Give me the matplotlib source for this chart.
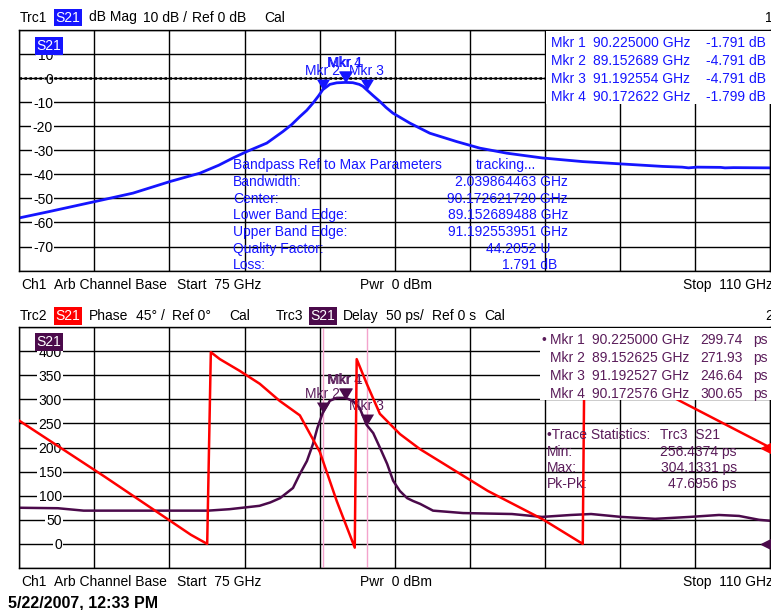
import numpy as np
import matplotlib.pyplot as plt
from matplotlib.patches import Rectangle

plt.rcParams['font.family'] = ['Liberation Sans', 'DejaVu Sans']
plt.rcParams['font.size'] = 10

BLUE = '#1515ff'
RED = '#ff0000'
PURPLE = '#4b0a4b'
PURPLE_TXT = '#5a1c5a'
PINK = '#f4a3cc'

### data
# Trc1: S21 magnitude (dB)
mag_freq = [75.0, 76.43, 78.53, 80.30, 82.02, 83.42, 84.3, 84.96, 85.61, 86.54,
            87.29, 87.7, 88.08, 88.4, 88.69, 88.95, 89.15, 89.48, 89.8, 90.2,
            90.55, 90.85, 91.02, 91.19, 91.5, 91.81, 92.1, 92.41, 93.21, 94.14,
            95.40, 96.47, 97.73, 99.40, 101.27, 103.13, 105.0, 105.9, 106.2, 106.6,
            107.7, 107.9, 108.3, 110.0]
mag_db = [-58.1, -55.4, -51.3, -47.8, -43.0, -39.5, -36.2, -33.2, -30.5, -27.0,
          -22.2, -19.3, -16.0, -13.4, -10.4, -7.4, -4.8, -2.6, -1.95, -1.79,
          -1.9, -2.6, -3.4, -4.8, -7.3, -9.7, -12.2, -14.5, -18.7, -22.9,
          -26.4, -29.1, -31.2, -33.2, -34.7, -35.7, -36.7, -37.0, -37.3, -37.0,
          -37.1, -37.3, -37.2, -37.3]

# Trc2: S21 phase (deg), repeated frequencies are the wrap jumps
phase_freq = [75.0, 79.0, 83.0, 83.76, 83.93, 84.35, 85.28, 86.21, 87.14, 88.08,
              89.01, 89.8, 90.64, 90.73, 91.2, 91.81, 92.75, 93.68, 96.84, 99.4,
              101.27, 101.35, 105.8, 110.0]
phase_deg = [230, 125, 17, 0, 358, 345, 323, 299, 267, 240,
             172, 80, -7, 345, 299, 243, 205, 177, 99, 46,
             0, 360, 267, 180]

# Trc3: S21 group delay (ps)
delay_freq = [75.0, 76.8, 78.0, 83.8, 84.8, 85.6, 86.2, 86.7, 87.16, 87.76,
              88.08, 88.41, 88.69, 88.9, 89.15, 89.48, 89.8, 90.2, 90.54, 90.87,
              91.19, 91.5, 91.82, 92.15, 92.43, 92.74, 93.08, 93.36, 93.69, 94.29,
              95.69, 97.97, 99.37, 100.72, 101.66, 103.06, 104.64, 106.27, 107.62, 108.56,
              109.49, 110.0]
delay_ps = [75, 74, 69, 69, 72, 76, 79, 86, 95, 116,
            145, 172, 207, 241, 272, 297, 303, 303, 297, 282,
            247, 230, 199, 166, 131, 110, 95, 89, 83, 69,
            64, 62, 56, 60, 62, 56, 52, 56, 60, 58,
            50, 48]

# markers
mkr_names = ['Mkr 1', 'Mkr 2', 'Mkr 3', 'Mkr 4']
mkr_freq_top = [90.225000, 89.152689, 91.192554, 90.172622]
mkr_val_top = [-1.791, -4.791, -4.791, -1.799]
mkr_freq_bot = [90.225000, 89.152625, 91.192527, 90.172576]
mkr_val_bot = [299.74, 271.93, 246.64, 300.65]

bp_names = ['Bandwidth:', 'Center:', 'Lower Band Edge:', 'Upper Band Edge:',
            'Quality Factor:', 'Loss:']
bp_values = ['2.039864463 GHz', '90.172621720 GHz', '89.152689488 GHz',
             '91.192553951 GHz', '44.2052 U', '1.791 dB']

stat_names = ['Min:', 'Max:', 'Pk-Pk:']
stat_values = [256.4374, 304.1331, 47.6956]

### figure
W, H = 771, 610
fig = plt.figure(figsize=(W / 100, H / 100), dpi=100)


def fx(x):
    return x / W


def fy(y):
    return 1 - y / H


def label(x, y, s, color='black', ha='left', **kw):
    fig.text(fx(x), fy(y), s, color=color, ha=ha, va='baseline', **kw)


def style_axes(ax, ylim, step, pad):
    ax.set_xlim(75, 110)
    ax.set_xticks(np.linspace(75, 110, 11))
    ax.set_xticklabels([])
    ticks = np.arange(ylim[0], ylim[1] + step, step)
    ax.set_ylim(*ylim)
    ax.set_yticks(ticks)
    ax.set_yticklabels(['' if t in ylim else str(int(t)) for t in ticks])
    ax.tick_params(length=0)
    ax.tick_params(axis='y', pad=pad, labelsize=10)
    ax.set_axisbelow(True)
    ax.grid(True, color='black', lw=1.0)
    for sp in ax.spines.values():
        sp.set_linewidth(1.0)
    for t in ax.yaxis.get_major_ticks():
        t.label1.set_bbox(dict(fc='white', ec='none', pad=1.0))


tri_down = [(0, 0), (-0.6, 1), (0.6, 1), (0, 0)]

ax1 = fig.add_axes([fx(19.3), fy(270.6), (770 - 19.3) / W, (270.6 - 30) / H])
style_axes(ax1, (-80, 20), 10, -24.3)
ax1.axhline(0, color='black', lw=1.8, ls=(0, (1, 1)), zorder=1)
ax1.plot(mag_freq, mag_db, color=BLUE, lw=2.0, zorder=2)
for i in [1, 3, 0, 2]:
    ax1.plot(mkr_freq_top[i], mkr_val_top[i], marker=tri_down, ms=15.8,
             color=BLUE, mew=0, zorder=3)
    ax1.annotate(mkr_names[i], (mkr_freq_top[i], mkr_val_top[i]), xytext=(0, 10.8),
                 textcoords='offset points', ha='center', va='baseline',
                 color=BLUE, zorder=4)

ax3 = fig.add_axes([fx(19.3), fy(568), (770 - 19.3) / W, (568 - 327) / H])
style_axes(ax3, (-50, 450), 50, -30.7)
for i in [1, 2]:
    ax3.axvline(mkr_freq_bot[i], color=PINK, lw=1.0, zorder=1)
ax3.plot(delay_freq, delay_ps, color=PURPLE, lw=1.8, zorder=2)
for i in [1, 3, 0, 2]:
    ax3.plot(mkr_freq_bot[i], mkr_val_bot[i], marker=tri_down, ms=15.8,
             color=PURPLE, mew=0, zorder=3)
    ax3.annotate(mkr_names[i], (mkr_freq_bot[i], mkr_val_bot[i]), xytext=(0, 10.8),
                 textcoords='offset points', ha='center', va='baseline',
                 color=PURPLE_TXT, zorder=4)
ax3.plot(110, 0, marker='<', ms=13, color=PURPLE, clip_on=False, zorder=3)

# phase shares the grid: 45 deg/div, ref 0 deg on the same line as 0 ps
ax4 = ax3.twinx()
ax4.set_ylim(-45, 405)
ax4.set_yticks([])
for sp in ax4.spines.values():
    sp.set_visible(False)
ax4.plot(phase_freq, phase_deg, color=RED, lw=1.8)
ax4.plot(110, 180, marker='<', ms=13, color=RED, clip_on=False)

# white boxes behind marker tables
fig.add_artist(Rectangle((fx(546), fy(104)), (771 - 546) / W, (104 - 31) / H,
                         transform=fig.transFigure, fc='white', ec='none', zorder=1))
fig.add_artist(Rectangle((fx(540), fy(400)), (771 - 540) / W, (400 - 328) / H,
                         transform=fig.transFigure, fc='white', ec='none', zorder=1))

### channel 1 texts
label(20, 21.5, 'Trc1')
label(55.5, 21.5, 'S21', color='white', bbox=dict(fc=BLUE, ec='none', pad=1.2))
label(89, 21.5, 'dB Mag')
label(143, 21.5, '10 dB /')
label(192, 21.5, 'Ref 0 dB')
label(264, 21.5, 'Cal')
label(765, 21.5, '1')
label(36.5, 50, 'S21', color='white', bbox=dict(fc=BLUE, ec='none', pad=1.2))

for k, y in enumerate([47, 65, 83, 101]):
    label(551, y, mkr_names[k], color=BLUE)
    label(593, y, f'{mkr_freq_top[k]:.6f} GHz', color=BLUE)
    label(766, y, f'{mkr_val_top[k]:.3f} dB', color=BLUE, ha='right')

label(233, 169, 'Bandpass Ref to Max Parameters', color=BLUE)
label(476, 169, 'tracking...', color=BLUE)
bp_right = [568, 568, 568, 568, 550, 557]
for k, y in enumerate([186, 203, 219, 236, 253, 269]):
    label(233, y, bp_names[k], color=BLUE)
    label(bp_right[k], y, bp_values[k], color=BLUE, ha='right')

label(21, 289, 'Ch1')
label(54, 289, 'Arb Channel Base')
label(177, 289, 'Start  75 GHz')
label(360, 289, 'Pwr  0 dBm')
label(683, 289, 'Stop  110 GHz')

### channel 2 texts
label(20, 320, 'Trc2')
label(55.5, 320, 'S21', color='white', bbox=dict(fc=RED, ec='none', pad=1.2))
label(89, 320, 'Phase')
label(136, 320, '45° /')
label(172, 320, 'Ref 0°')
label(229, 320, 'Cal')
label(276, 320, 'Trc3')
label(310.5, 320, 'S21', color='white', bbox=dict(fc=PURPLE, ec='none', pad=1.2))
label(343, 320, 'Delay')
label(386, 320, '50 ps/')
label(432, 320, 'Ref 0 s')
label(484, 320, 'Cal')
label(765, 320, '2')
label(36.5, 346, 'S21', color='white', bbox=dict(fc=PURPLE, ec='none', pad=1.2))

label(542, 344, '•', color=PURPLE_TXT)
for k, y in enumerate([344, 362, 380, 398]):
    label(550, y, mkr_names[k], color=PURPLE_TXT)
    label(592, y, f'{mkr_freq_bot[k]:.6f} GHz', color=PURPLE_TXT)
    label(743, y, f'{mkr_val_bot[k]:.2f}', color=PURPLE_TXT, ha='right')
    label(753, y, 'ps', color=PURPLE_TXT)

label(547, 439, '•Trace Statistics:', color=PURPLE_TXT)
label(660, 439, 'Trc3  S21', color=PURPLE_TXT)
for k, y in enumerate([456, 472, 488]):
    label(547, y, stat_names[k], color=PURPLE_TXT)
    label(737, y, f'{stat_values[k]:.4f} ps', color=PURPLE_TXT, ha='right')

label(21, 586, 'Ch1')
label(54, 586, 'Arb Channel Base')
label(177, 586, 'Start  75 GHz')
label(360, 586, 'Pwr  0 dBm')
label(683, 586, 'Stop  110 GHz')

label(8, 607, '5/22/2007, 12:33 PM', fontsize=11.5, fontweight='bold')

fig.savefig('out.png', dpi=100)
